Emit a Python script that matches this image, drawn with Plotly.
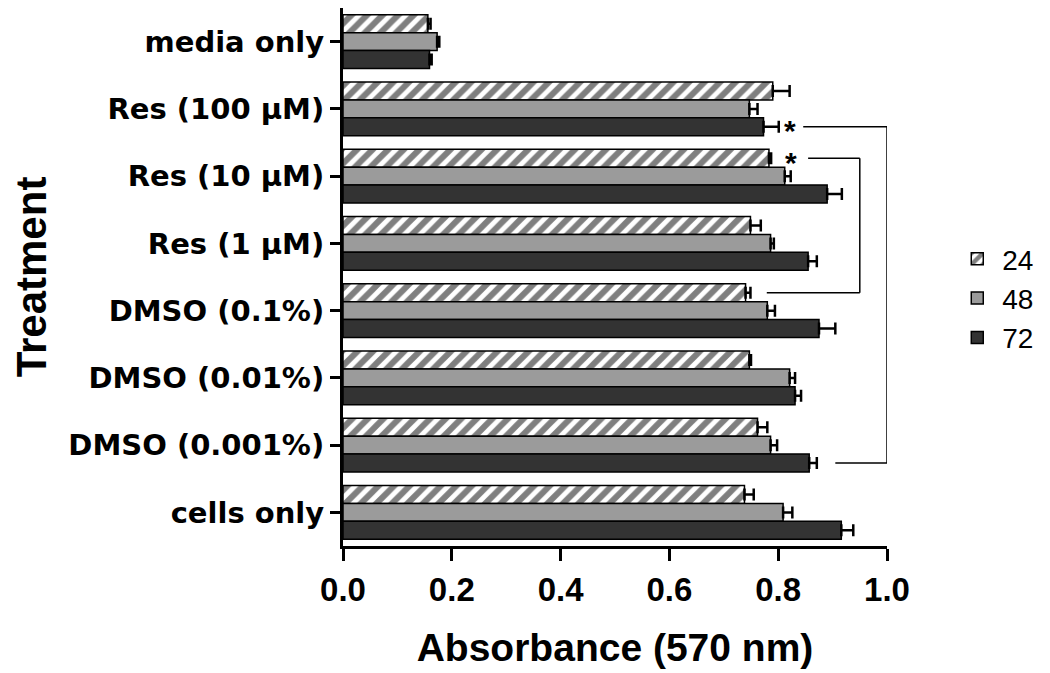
import plotly.graph_objects as go

categories = ["media only", "Res (100 µM)", "Res (10 µM)", "Res (1 µM)",
              "DMSO (0.1%)", "DMSO (0.01%)", "DMSO (0.001%)", "cells only"]
series_names = ["24", "48", "72"]
values_24 = [0.156, 0.790, 0.783, 0.749, 0.740, 0.747, 0.762, 0.738]
errors_24 = [0.005, 0.031, 0.004, 0.019, 0.009, 0.003, 0.018, 0.017]
values_48 = [0.173, 0.747, 0.812, 0.786, 0.780, 0.821, 0.786, 0.809]
errors_48 = [0.004, 0.015, 0.011, 0.006, 0.014, 0.010, 0.012, 0.017]
values_72 = [0.159, 0.773, 0.890, 0.855, 0.875, 0.831, 0.857, 0.916]
errors_72 = [0.004, 0.028, 0.027, 0.016, 0.030, 0.011, 0.014, 0.022]
x_ticks = [0.0, 0.2, 0.4, 0.6, 0.8, 1.0]

ARIAL = "Liberation Sans, Arial, sans-serif"
WIDE = "DejaVu Sans, sans-serif"
fig = go.Figure()

styles = [
    dict(color="white", pattern=dict(shape="/", fgcolor="black", bgcolor="white", size=11, solidity=0.55)),
    dict(color="#9b9b9b"),
    dict(color="#333333"),
]
for name, vals, errs, st in zip(series_names, [values_24, values_48, values_72],
                                [errors_24, errors_48, errors_72], styles):
    fig.add_trace(go.Bar(
        y=categories, x=vals, name=name, orientation="h",
        marker=dict(line=dict(color="black", width=1.5), **st),
        error_x=dict(type="data", array=errs, arrayminus=[0] * len(errs), symmetric=False,
                     color="black", thickness=2.5, width=6),
    ))

# significance brackets (category index + bar offset within group)
off = 0.8 / 3
lw = 1.5
def seg(x0, y0, x1, y1):
    fig.add_shape(type="line", xref="x", yref="y", x0=x0, y0=y0, x1=x1, y1=y1,
                  line=dict(color="black", width=lw))

yA = 1 + off   # Res 100, 72
yB = 6 + off   # DMSO 0.001, 72
seg(0.846, yA, 1.0, yA); seg(1.0, yA, 1.0, yB); seg(1.0, yB, 0.905, yB)
yC = 2 - off   # Res 10, 24
yD = 4 - off   # DMSO 0.1, 24
seg(0.855, yC, 0.950, yC); seg(0.950, yC, 0.950, yD); seg(0.950, yD, 0.779, yD)

for xs, ys in [(0.821, yA), (0.823, yC)]:
    fig.add_annotation(x=xs, y=ys, xref="x", yref="y", text="<b>*</b>", showarrow=False,
                       font=dict(size=30, family=ARIAL, color="black"), yshift=-4)

fig.update_layout(
    width=1042, height=665,
    margin=dict(l=335, r=163, t=0, b=127),
    paper_bgcolor="white", plot_bgcolor="white",
    barmode="group", bargap=0.2, bargroupgap=0,
    font=dict(family=ARIAL, color="black"),
    legend=dict(x=1.12, y=0.46, xanchor="left", yanchor="middle", traceorder="normal",
                font=dict(size=28, family=ARIAL), itemwidth=40, tracegroupgap=0),
    xaxis=dict(range=[0, 1.0], tickvals=x_ticks, ticktext=[f"{v:.1f}" for v in x_ticks],
               showgrid=False, zeroline=False, showline=True, linecolor="black", linewidth=3,
               ticks="outside", ticklen=12, tickwidth=3, tickcolor="black",
               tickfont=dict(size=33, family=ARIAL, weight="bold"),
               title=dict(text="<b>Absorbance (570 nm)</b>", font=dict(size=39, family=ARIAL), standoff=28)),
    yaxis=dict(autorange="reversed", showgrid=False, zeroline=False, showline=True,
               linecolor="black", linewidth=3, ticks="outside", ticklen=10, tickwidth=2.5,
               tickcolor="black", tickfont=dict(size=29, family=WIDE, weight="bold"),
               title=dict(text="<b>Treatment</b>", font=dict(size=42, family=ARIAL), standoff=16)),
)
fig.write_html("out.html")
